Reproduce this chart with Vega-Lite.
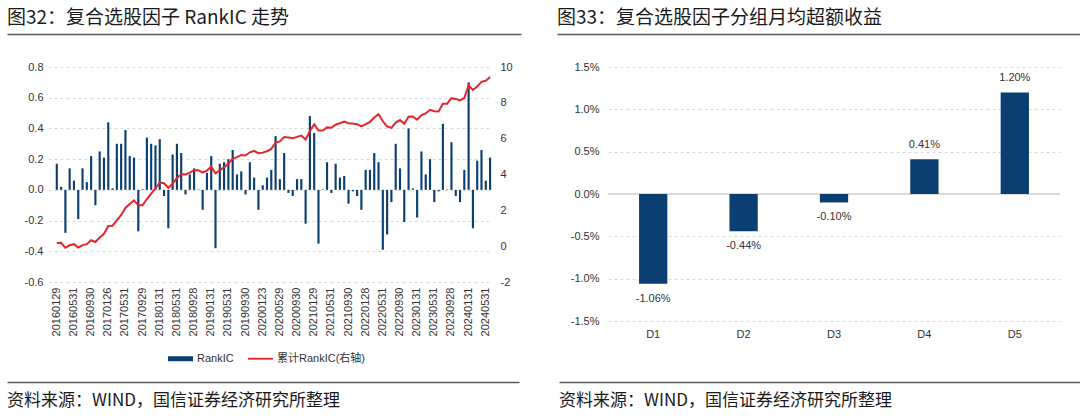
{
  "$schema": "https://vega.github.io/schema/vega-lite/v6.json",
  "background": "white",
  "padding": {"left": 7, "top": 8, "right": 0, "bottom": 0},
  "config": {
    "view": {"stroke": null},
    "locale": {"number": {"decimal": ".", "thousands": ",", "grouping": [3], "currency": ["", ""], "minus": "-", "percent": "%"}},
    "axis": {"labelFont": "Liberation Sans", "labelColor": "#333333", "labelFontSize": 11, "ticks": false, "domain": false, "gridColor": "#d9d9d9", "gridDash": [3, 3], "gridWidth": 1},
    "title": {"font": "Noto Sans CJK SC", "fontWeight": "normal", "color": "#1a1a1a"}
  },
  "spacing": 24,
  "vconcat": [
    {
      "spacing": 36,
      "hconcat": [
        {
          "width": 514, "height": 1,
          "data": {"values": [{"v": 0}]},
          "mark": {"type": "point", "opacity": 0},
          "encoding": {"x": {"field": "v", "type": "quantitative", "axis": {"orient": "bottom", "domain": true, "domainColor": "#595959", "domainWidth": 1.5, "ticks": false, "labels": false, "grid": false, "title": null}}},
          "title": {"text": "图32：复合选股因子 RankIC 走势", "anchor": "start", "fontSize": 19, "offset": 3}
        },
        {
          "width": 523, "height": 1,
          "data": {"values": [{"v": 0}]},
          "mark": {"type": "point", "opacity": 0},
          "encoding": {"x": {"field": "v", "type": "quantitative", "axis": {"orient": "bottom", "domain": true, "domainColor": "#595959", "domainWidth": 1.5, "ticks": false, "labels": false, "grid": false, "title": null}}},
          "title": {"text": "图33：复合选股因子分组月均超额收益", "anchor": "start", "fontSize": 19, "offset": 3}
        }
      ]
    },
    {
      "spacing": 40,
      "vconcat": [
        {
          "spacing": 0,
          "hconcat": [
            {
              "width": 1, "height": 1,
              "data": {"values": [{"v": 0}]},
              "mark": {"type": "point", "opacity": 0, "size": 0},
              "encoding": {}
            },
            {
              "width": 444, "height": 215,
              "data": {"values": [
                {"date": "20160129", "ic": 0.17, "cum": 0.17},
                {"date": "20160229", "ic": 0.02, "cum": 0.19},
                {"date": "20160331", "ic": -0.28, "cum": -0.09},
                {"date": "20160429", "ic": 0.14, "cum": 0.05},
                {"date": "20160531", "ic": 0.06, "cum": 0.11},
                {"date": "20160630", "ic": -0.19, "cum": -0.08},
                {"date": "20160729", "ic": 0.14, "cum": 0.06},
                {"date": "20160831", "ic": 0.05, "cum": 0.11},
                {"date": "20160930", "ic": 0.22, "cum": 0.33},
                {"date": "20161031", "ic": -0.10, "cum": 0.23},
                {"date": "20161130", "ic": 0.25, "cum": 0.48},
                {"date": "20161230", "ic": 0.21, "cum": 0.69},
                {"date": "20170126", "ic": 0.44, "cum": 1.13},
                {"date": "20170228", "ic": 0.01, "cum": 1.14},
                {"date": "20170331", "ic": 0.30, "cum": 1.44},
                {"date": "20170428", "ic": 0.30, "cum": 1.74},
                {"date": "20170531", "ic": 0.39, "cum": 2.13},
                {"date": "20170630", "ic": 0.22, "cum": 2.35},
                {"date": "20170731", "ic": 0.21, "cum": 2.56},
                {"date": "20170831", "ic": -0.27, "cum": 2.29},
                {"date": "20170929", "ic": 0.004, "cum": 2.29},
                {"date": "20171031", "ic": 0.34, "cum": 2.63},
                {"date": "20171130", "ic": 0.30, "cum": 2.93},
                {"date": "20171229", "ic": 0.29, "cum": 3.22},
                {"date": "20180131", "ic": 0.33, "cum": 3.55},
                {"date": "20180228", "ic": -0.04, "cum": 3.51},
                {"date": "20180330", "ic": -0.25, "cum": 3.26},
                {"date": "20180427", "ic": 0.23, "cum": 3.49},
                {"date": "20180531", "ic": 0.30, "cum": 3.79},
                {"date": "20180629", "ic": 0.24, "cum": 4.03},
                {"date": "20180731", "ic": -0.03, "cum": 4.00},
                {"date": "20180831", "ic": 0.10, "cum": 4.10},
                {"date": "20180928", "ic": 0.14, "cum": 4.24},
                {"date": "20181031", "ic": 0.003, "cum": 4.24},
                {"date": "20181130", "ic": -0.13, "cum": 4.11},
                {"date": "20181228", "ic": 0.11, "cum": 4.22},
                {"date": "20190131", "ic": 0.22, "cum": 4.44},
                {"date": "20190228", "ic": -0.38, "cum": 4.06},
                {"date": "20190329", "ic": 0.17, "cum": 4.23},
                {"date": "20190430", "ic": 0.18, "cum": 4.41},
                {"date": "20190531", "ic": 0.20, "cum": 4.61},
                {"date": "20190628", "ic": 0.26, "cum": 4.87},
                {"date": "20190731", "ic": 0.10, "cum": 4.97},
                {"date": "20190830", "ic": 0.12, "cum": 5.09},
                {"date": "20190930", "ic": -0.03, "cum": 5.06},
                {"date": "20191031", "ic": 0.18, "cum": 5.24},
                {"date": "20191129", "ic": 0.08, "cum": 5.32},
                {"date": "20191231", "ic": -0.13, "cum": 5.19},
                {"date": "20200123", "ic": 0.03, "cum": 5.22},
                {"date": "20200228", "ic": 0.08, "cum": 5.30},
                {"date": "20200331", "ic": 0.13, "cum": 5.43},
                {"date": "20200430", "ic": 0.35, "cum": 5.78},
                {"date": "20200529", "ic": 0.07, "cum": 5.85},
                {"date": "20200630", "ic": 0.24, "cum": 6.09},
                {"date": "20200731", "ic": -0.02, "cum": 6.07},
                {"date": "20200831", "ic": -0.04, "cum": 6.03},
                {"date": "20200930", "ic": 0.07, "cum": 6.10},
                {"date": "20201030", "ic": 0.07, "cum": 6.17},
                {"date": "20201130", "ic": -0.22, "cum": 5.95},
                {"date": "20201231", "ic": 0.48, "cum": 6.43},
                {"date": "20210129", "ic": 0.37, "cum": 6.80},
                {"date": "20210226", "ic": -0.35, "cum": 6.45},
                {"date": "20210331", "ic": 0.003, "cum": 6.45},
                {"date": "20210430", "ic": 0.18, "cum": 6.63},
                {"date": "20210531", "ic": -0.02, "cum": 6.61},
                {"date": "20210630", "ic": 0.17, "cum": 6.78},
                {"date": "20210730", "ic": 0.08, "cum": 6.86},
                {"date": "20210831", "ic": 0.09, "cum": 6.95},
                {"date": "20210930", "ic": -0.09, "cum": 6.86},
                {"date": "20211029", "ic": -0.01, "cum": 6.85},
                {"date": "20211130", "ic": -0.04, "cum": 6.81},
                {"date": "20211231", "ic": -0.13, "cum": 6.68},
                {"date": "20220128", "ic": 0.13, "cum": 6.81},
                {"date": "20220228", "ic": 0.13, "cum": 6.94},
                {"date": "20220331", "ic": 0.24, "cum": 7.18},
                {"date": "20220429", "ic": 0.18, "cum": 7.36},
                {"date": "20220531", "ic": -0.39, "cum": 6.97},
                {"date": "20220630", "ic": -0.29, "cum": 6.68},
                {"date": "20220729", "ic": -0.08, "cum": 6.60},
                {"date": "20220831", "ic": 0.30, "cum": 6.90},
                {"date": "20220930", "ic": 0.14, "cum": 7.04},
                {"date": "20221031", "ic": -0.21, "cum": 6.83},
                {"date": "20221130", "ic": 0.40, "cum": 7.23},
                {"date": "20221230", "ic": 0.01, "cum": 7.24},
                {"date": "20230131", "ic": -0.18, "cum": 7.06},
                {"date": "20230228", "ic": 0.25, "cum": 7.31},
                {"date": "20230331", "ic": 0.10, "cum": 7.41},
                {"date": "20230428", "ic": 0.20, "cum": 7.61},
                {"date": "20230531", "ic": -0.08, "cum": 7.53},
                {"date": "20230630", "ic": -0.01, "cum": 7.52},
                {"date": "20230731", "ic": 0.43, "cum": 7.95},
                {"date": "20230831", "ic": 0.003, "cum": 7.95},
                {"date": "20230928", "ic": 0.31, "cum": 8.26},
                {"date": "20231031", "ic": -0.04, "cum": 8.22},
                {"date": "20231130", "ic": -0.08, "cum": 8.14},
                {"date": "20231229", "ic": 0.13, "cum": 8.27},
                {"date": "20240131", "ic": 0.70, "cum": 8.97},
                {"date": "20240229", "ic": -0.25, "cum": 8.72},
                {"date": "20240329", "ic": 0.19, "cum": 8.91},
                {"date": "20240430", "ic": 0.26, "cum": 9.17},
                {"date": "20240531", "ic": 0.06, "cum": 9.23},
                {"date": "20240628", "ic": 0.21, "cum": 9.44}
              ]},
              "layer": [
                {
                  "mark": {"type": "bar"},
                  "encoding": {
                    "x": {"field": "date", "type": "ordinal", "sort": null,
                      "scale": {"paddingInner": 0.5, "paddingOuter": 1.36, "align": 0.9},
                      "axis": {"values": ["20160129","20160531","20160930","20170126","20170531","20170929","20180131","20180531","20180928","20190131","20190531","20190930","20200123","20200529","20200930","20210129","20210531","20210930","20220128","20220531","20220930","20230131","20230531","20230928","20240131","20240531"],
                        "labelAngle": -90, "labelPadding": 5, "title": null, "grid": false}},
                    "y": {"field": "ic", "type": "quantitative",
                      "scale": {"domain": [-0.6, 0.8], "nice": false, "zero": false},
                      "axis": {"values": [-0.6, -0.4, -0.2, 0, 0.2, 0.4, 0.6, 0.8], "format": ".1f", "title": null, "grid": true, "minExtent": 40, "labelPadding": 5}},
                    "color": {"datum": "RankIC", "type": "nominal",
                      "scale": {"domain": ["RankIC", "累计RankIC(右轴)"], "range": ["#0B3F72", "#E3262B"]},
                      "legend": {"title": null, "orient": "none", "legendX": 161, "legendY": 313, "direction": "horizontal",
                        "symbolType": "M-1,-0.2H1V0.2H-1Z", "symbolSize": 625,
                        "labelFont": "Liberation Sans, Noto Sans CJK SC", "labelFontSize": 11, "labelColor": "#333333",
                        "columnPadding": 14, "labelOffset": 4, "padding": 0,
                        "encode": {"symbols": {"update": {
                          "shape": {"signal": "datum.value === 'RankIC' ? 'M-1,-0.2H1V0.2H-1Z' : 'M-1,-0.075H1V0.075H-1Z'"},
                          "fill": {"scale": "color", "field": "value"},
                          "stroke": {"value": "transparent"},
                          "strokeWidth": {"value": 0},
                          "opacity": {"value": 1},
                          "fillOpacity": {"value": 1}}}}}}
                  }
                },
                {
                  "mark": {"type": "line", "strokeWidth": 2},
                  "encoding": {
                    "x": {"field": "date", "type": "ordinal", "sort": null},
                    "y": {"field": "cum", "type": "quantitative",
                      "scale": {"domain": [-2, 10], "nice": false, "zero": false},
                      "axis": {"values": [-2, 0, 2, 4, 6, 8, 10], "format": "d", "title": null, "grid": false, "orient": "right", "labelPadding": 8, "minExtent": 50}},
                    "color": {"datum": "累计RankIC(右轴)", "type": "nominal"}
                  }
                }
              ],
              "resolve": {"scale": {"y": "independent"}}
            },
            {
              "width": 452, "height": 254,
              "data": {"values": [
                {"g": "D1", "v": -0.0106},
                {"g": "D2", "v": -0.0044},
                {"g": "D3", "v": -0.0010},
                {"g": "D4", "v": 0.0041},
                {"g": "D5", "v": 0.0120}
              ]},
              "encoding": {
                "x": {"field": "g", "type": "nominal", "sort": null,
                  "scale": {"paddingInner": 0.687, "paddingOuter": 0.3435},
                  "axis": {"labelAngle": 0, "labelPadding": 7, "title": null, "grid": false}},
                "y": {"field": "v", "type": "quantitative",
                  "scale": {"domain": [-0.015, 0.015], "nice": false, "zero": false},
                  "axis": {"values": [-0.015, -0.01, -0.005, 0, 0.005, 0.01, 0.015], "format": ".1%", "title": null, "grid": true, "minExtent": 66, "labelPadding": 9}}
              },
              "layer": [
                {"mark": {"type": "rule", "color": "#d9d9d9", "strokeWidth": 1}, "encoding": {"y": {"datum": 0}, "x": null}},
                {"mark": {"type": "bar", "color": "#0B3F72"}},
                {"transform": [{"filter": "datum.v >= 0"}],
                  "mark": {"type": "text", "dy": -14, "font": "Liberation Sans", "fontSize": 11, "color": "#333333"},
                  "encoding": {"text": {"field": "v", "format": ".2%"}}},
                {"transform": [{"filter": "datum.v < 0"}],
                  "mark": {"type": "text", "dy": 15, "font": "Liberation Sans", "fontSize": 11, "color": "#333333"},
                  "encoding": {"text": {"field": "v", "format": ".2%"}}}
              ]
            }
          ]
        },
        {
          "spacing": 40,
          "hconcat": [
            {
              "width": 512, "height": 1,
              "data": {"values": [{"v": 0}]},
              "mark": {"type": "point", "opacity": 0},
              "encoding": {"x": {"field": "v", "type": "quantitative", "axis": {"orient": "top", "domain": true, "domainColor": "#595959", "domainWidth": 1.5, "ticks": false, "labels": false, "grid": false, "title": null}}},
              "title": {"text": "资料来源：WIND，国信证券经济研究所整理", "orient": "bottom", "anchor": "start", "fontSize": 17, "offset": 8}
            },
            {
              "width": 521, "height": 1,
              "data": {"values": [{"v": 0}]},
              "mark": {"type": "point", "opacity": 0},
              "encoding": {"x": {"field": "v", "type": "quantitative", "axis": {"orient": "top", "domain": true, "domainColor": "#595959", "domainWidth": 1.5, "ticks": false, "labels": false, "grid": false, "title": null}}},
              "title": {"text": "资料来源：WIND，国信证券经济研究所整理", "orient": "bottom", "anchor": "start", "fontSize": 17, "offset": 8}
            }
          ]
        }
      ]
    }
  ]
}
